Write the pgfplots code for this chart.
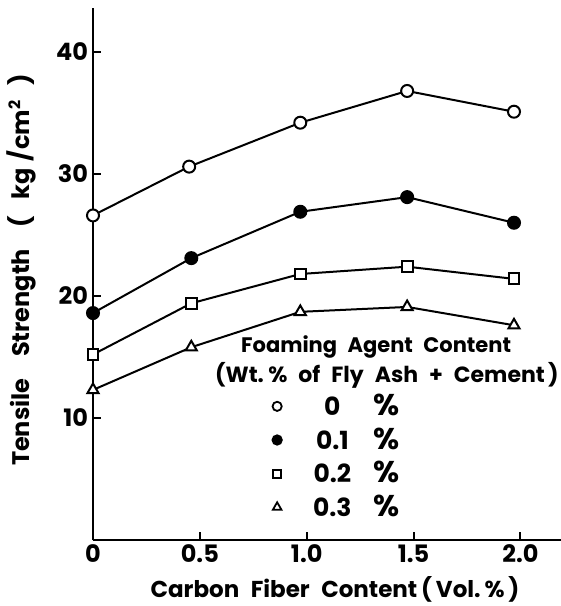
\documentclass[border=0pt]{standalone}
\usepackage{fontspec}
\setmainfont{Poppins}
\usepackage{pgfplots}
\pgfplotsset{compat=1.18}
\newcommand{\pc}{{\fontsize{15}{15}\selectfont\%}}
\begin{document}
\begin{tikzpicture}
\path[use as bounding box] (-46.5pt,-33pt) rectangle (234pt,270pt);
\begin{axis}[
  at={(0,0)}, anchor=south west,
  scale only axis,
  width=234pt, height=266pt,
  xmin=0, xmax=2.19, ymin=0, ymax=43.6,
  axis x line*=bottom, axis y line*=left,
  axis line style={line width=1pt, -},
  xtick={0,0.5,1,1.5,2},
  xticklabels={0,0.5,1.0,1.5,2.0},
  ytick={10,20,30,40},
  tick align=inside,
  major tick length=4pt,
  tick style={line width=1pt, black},
  /pgf/number format/assume math mode=true,
  tick label style={font=\fontsize{12}{12}\selectfont\bfseries},
  xticklabel style={yshift=1pt},
  yticklabel style={xshift=1pt},
  xlabel={Carbon\enspace Fiber\enspace Content\,(\,Vol.\,\%\,)},
  xlabel style={at={(axis description cs:0.517,0)}, anchor=center, yshift=-24.5pt, font=\fontsize{11.5}{12}\selectfont\bfseries},
  every axis plot/.append style={line width=1pt, black, mark size=3pt},
  legend style={draw=none, fill=none, at={(axis description cs:0.37,0.29)}, anchor=north west,
    font=\fontsize{12.5}{13}\selectfont\bfseries, row sep=0.6pt,
    /tikz/every odd column/.append style={column sep=13pt}},
  legend cell align=left,
  clip=false,
]
\addplot[forget plot, mark=*, mark options={fill=white}] coordinates {(0,26.6) (0.45,30.6) (0.97,34.2) (1.47,36.8) (1.97,35.1)};
\addplot[forget plot, mark=*, mark options={fill=black}] coordinates {(0,18.6) (0.46,23.1) (0.97,26.9) (1.47,28.1) (1.97,26.0)};
\addplot[forget plot, mark=square*, mark options={fill=white}, mark size=2.7pt] coordinates {(0,15.2) (0.46,19.4) (0.97,21.8) (1.47,22.4) (1.97,21.4)};
\addplot[forget plot, mark=triangle*, mark options={fill=white}, mark size=3.2pt] coordinates {(0,12.3) (0.46,15.8) (0.97,18.7) (1.47,19.1) (1.97,17.6)};
\addlegendimage{only marks, mark=*, mark options={fill=white}, mark size=2.3pt, line width=0.9pt}
\addlegendentry{\makebox[1.65em][c]{0}\hspace{0.8em}\pc}
\addlegendimage{only marks, mark=*, mark options={fill=black}, mark size=2.3pt}
\addlegendentry{\makebox[1.65em][c]{0.1}\hspace{0.8em}\pc}
\addlegendimage{only marks, mark=square*, mark options={fill=white}, mark size=2pt, line width=0.9pt}
\addlegendentry{\makebox[1.65em][c]{0.2}\hspace{0.8em}\pc}
\addlegendimage{only marks, mark=triangle*, mark options={fill=white}, mark size=2.5pt, line width=0.9pt}
\addlegendentry{\makebox[1.65em][c]{0.3}\hspace{0.8em}\pc}
\node[font=\fontsize{10.5}{11}\selectfont\bfseries] at (axis description cs:0.605,0.362) {Foaming\enspace Agent\enspace Content};
\node[font=\fontsize{11}{11}\selectfont\bfseries] at (axis description cs:0.628,0.31) {(Wt.\hspace{0.2em}\%\hspace{0.5em}of\hspace{0.5em}Fly\hspace{0.5em}Ash\hspace{0.5em}+\hspace{0.5em}Cement\hspace{0.15em})};
\end{axis}
\node[rotate=90, font=\fontsize{12}{12}\selectfont\bfseries] at (-36pt,135pt) {Tensile\hspace{0.9em}Strength\hspace{0.9em}(\hspace{0.7em}kg\hspace{0.25em}/\hspace{0.05em}cm$^{\mathbf{2}}$\hspace{0.6em})};
\end{tikzpicture}
\end{document}
